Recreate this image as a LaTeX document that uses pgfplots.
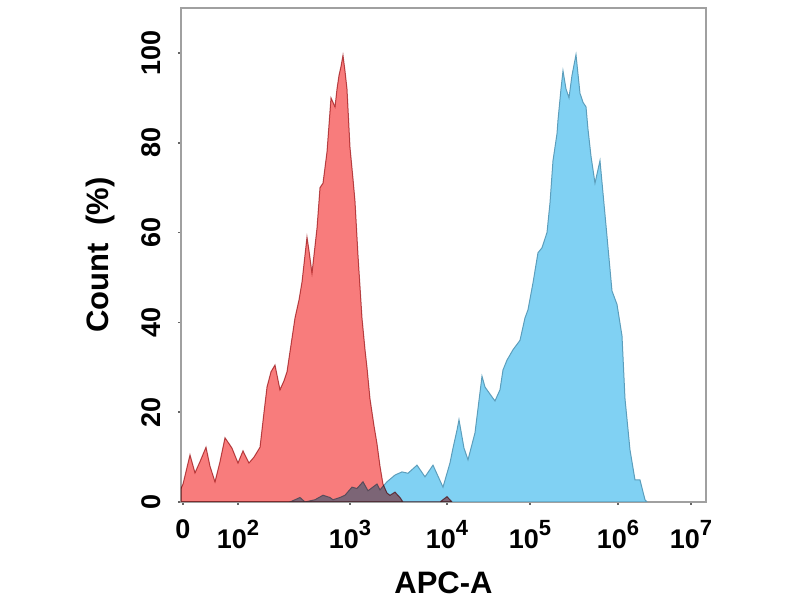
\documentclass[border=0pt]{standalone}
\usepackage{fontspec}
\setmainfont{Liberation Sans}
\usepackage{pgfplots}
\pgfplotsset{compat=1.18}
\definecolor{redfill}{RGB}{248,124,124}
\definecolor{redline}{RGB}{185,88,92}
\definecolor{bluefill}{RGB}{128,209,243}
\definecolor{blueline}{RGB}{92,158,188}
\definecolor{axgray}{RGB}{160,160,160}
\newcommand{\pw}[1]{10\raisebox{0.5em}{\fontsize{11}{12}\selectfont #1}}
\begin{document}
\begin{tikzpicture}
\path[use as bounding box] (-90.5pt,-49pt) rectangle (309.5pt,251pt);
\begin{axis}[
  at={(0,0)}, anchor=south west,
  scale only axis, width=262.5pt, height=247pt,
  xmin=181, xmax=706, ymin=0, ymax=110,
  axis line style={draw=axgray, line width=0.9pt},
  xtick={183,238,350,447,530,618,691},
  xticklabels={0,\pw{2},\pw{3},\pw{4},\pw{5},\pw{6},\pw{7}},
  ytick={0,20,40,60,80,100},
  xtick pos=bottom, ytick pos=left,
  tick align=outside, major tick length=1.5pt,
  tick style={draw=black!60, line width=0.8pt},
  /pgf/number format/assume math mode=true,
  ticklabel style={font=\bfseries\fontsize{13.5}{15}\selectfont},
  yticklabel style={rotate=90, anchor=south},
  yticklabel shift=5pt,
  xticklabel shift=4pt,
  xlabel={APC-A},
  ylabel={Count\ \ (\%)},
  label style={font=\bfseries\fontsize{15.5}{17}\selectfont},
  xlabel style={at={(axis description cs:0.5,-0.164)}, anchor=center},
  ylabel style={at={(axis description cs:-0.154,0.5)}, anchor=center, rotate=0},
]
\addplot[draw=blueline, line width=0.5pt, fill=bluefill] coordinates {
(290,0) (300,1) (305,0) (315,0.5) (323,1.5) (330,1) (333,0.5) (340,1) (345,1.5)
(352,3.3) (357,3) (363,4.5) (368,2.5) (377,4) (380,2.7) (387,4.5) (395,6) (402,6.7)
(408,6.4) (417,8.2) (425,5.6) (433,8.2) (443,3.3) (450,8.7) (453,12) (457,16)
(459,18.3) (464,12) (468,9.4) (475,15.4) (482,28) (485,25.6) (492,23.4) (495,22.5)
(500,25) (503,29.4) (507,31.6) (513,33.9) (520,36) (525,41) (528,42.8) (533,48.8)
(538,55.5) (542,56.6) (547,60) (550,66.6) (553,76) (557,82) (558,85) (561,92)
(563,96) (566,92) (569,90) (572,95) (576,99.6) (580,91) (583,89) (586,88) (588,83)
(591,77) (595,71) (600,76) (605,64) (612,47) (617,44) (622,37) (625,23) (630,11.6)
(635,4.9) (640,4.9) (645,0.5) (647,0)
} \closedcycle;
\addplot[draw=redline, line width=0.5pt, fill=redfill, blend mode=multiply] coordinates {
(181,3) (183,4) (190,10.5) (195,6.5) (200,9) (206,12.2) (210,8) (215,4.5) (220,9)
(225,14.3) (229,13) (232,12) (238,8.7) (243,11.4) (246,10) (249,8.7) (254,10)
(260,12.2) (264,20) (267,25.6) (271,29) (275,30.5) (280,25) (284,27) (287,29)
(291,35) (295,41) (299,45) (302,49) (305,55) (307,59) (309,56) (312,51) (315,57)
(317,61) (320,70) (323,71) (327,78) (329,84) (331,90) (333,89) (335,88) (337,92)
(339,95) (341,97) (343,99.5) (345,96) (347,92) (350,79) (353,72) (355,67) (358,55)
(362,41) (365,34) (367,30) (370,23) (374,17) (377,13) (380,8) (383,4) (387,2)
(390,1.5) (395,2.2) (400,1) (403,0) (440,0) (447,1.2) (452,0)
} \closedcycle;
\end{axis}
\end{tikzpicture}
\end{document}
